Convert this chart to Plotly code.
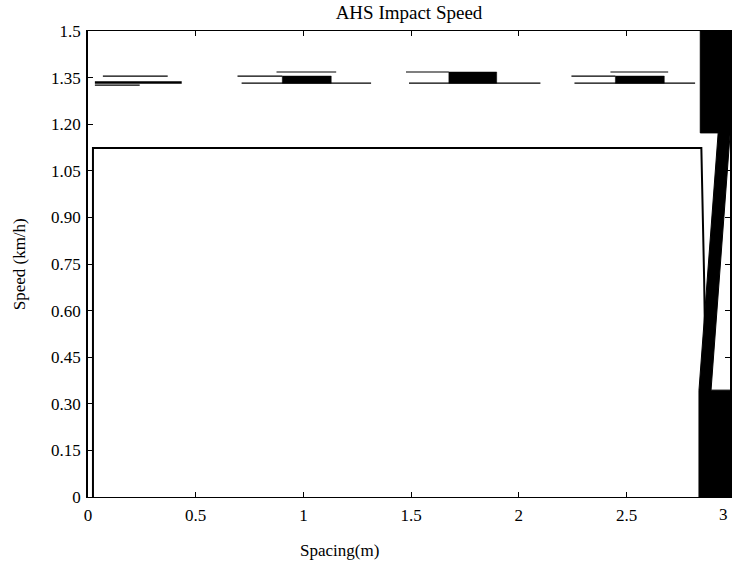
import plotly.graph_objects as go

# ---- data ----
main_x = [0.023, 0.023, 2.847, 2.86, 2.875]
main_y = [0.0, 1.123, 1.123, 0.70, 0.0]

# horizontal streak segments near 1.35
thick_x0 = [0.032]
thick_x1 = [0.435]
thick_y = [1.334]

thin_x0 = [0.069, 0.032, 0.875, 0.694, 0.713, 1.476, 1.490, 2.425, 2.244, 2.258]
thin_x1 = [0.370, 0.240, 1.152, 0.902, 1.314, 1.675, 2.100, 2.693, 2.448, 2.818]
thin_y = [1.355, 1.326, 1.368, 1.355, 1.332, 1.368, 1.332, 1.368, 1.355, 1.332]

# solid streak blocks
block_x0 = [0.902, 1.675, 2.448]
block_x1 = [1.129, 1.897, 2.675]
block_y0 = [1.332, 1.332, 1.332]
block_y1 = [1.355, 1.368, 1.355]

# large black shape at the right edge
big_x = [2.842, 3.02, 3.02, 2.980, 2.892, 3.02, 3.02, 2.836, 2.836, 2.925, 2.842, 2.842]
big_y = [1.5, 1.5, 1.165, 1.165, 0.344, 0.344, 0.0, 0.0, 0.344, 1.172, 1.172, 1.5]

x_tickvals = [0, 0.5, 1, 1.5, 2, 2.5, 3]
x_ticktext = ["0", "0.5", "1", "1.5", "2", "2.5", "3"]
y_tickvals = [0, 0.15, 0.30, 0.45, 0.60, 0.75, 0.90, 1.05, 1.20, 1.35, 1.5]
y_ticktext = ["0", "0.15", "0.30", "0.45", "0.60", "0.75", "0.90", "1.05", "1.20", "1.35", "1.5"]

X_MAX = 2.98


def segs(x0s, x1s, ys):
    xs, yv = [], []
    for a, b, y in zip(x0s, x1s, ys):
        xs += [a, b, None]
        yv += [y, y, None]
    return xs, yv


def rects(x0s, x1s, y0s, y1s):
    xs, yv = [], []
    for a, b, c, d in zip(x0s, x1s, y0s, y1s):
        xs += [a, b, b, a, a, None]
        yv += [c, c, d, d, c, None]
    return xs, yv


FONT = "Liberation Serif, Times New Roman, serif"

fig = go.Figure()

tx, ty = segs(thick_x0, thick_x1, thick_y)
fig.add_trace(go.Scatter(x=tx, y=ty, mode="lines", line=dict(color="black", width=2.5),
                         hoverinfo="skip", showlegend=False))
sx, sy = segs(thin_x0, thin_x1, thin_y)
fig.add_trace(go.Scatter(x=sx, y=sy, mode="lines", line=dict(color="black", width=1.2),
                         hoverinfo="skip", showlegend=False))
bx, by = rects(block_x0, block_x1, block_y0, block_y1)
fig.add_trace(go.Scatter(x=bx, y=by, mode="lines", fill="toself", fillcolor="black",
                         line=dict(color="black", width=0.5), hoverinfo="skip", showlegend=False))

fig.add_trace(go.Scatter(x=main_x, y=main_y, mode="lines", line=dict(color="black", width=2),
                         showlegend=False))

fig.add_trace(go.Scatter(x=big_x, y=big_y, mode="lines", fill="toself", fillcolor="black",
                         line=dict(color="black", width=1), hoverinfo="skip", showlegend=False))

fig.update_layout(
    width=732, height=570,
    margin=dict(l=88, r=0, t=31, b=73),
    paper_bgcolor="white", plot_bgcolor="white",
    font=dict(family=FONT, size=17, color="black"),
    title=dict(text="AHS Impact Speed", font=dict(family=FONT, size=19, color="black"),
               x=0.5, xref="paper", xanchor="center", y=1 - 12 / 570, yref="container",
               yanchor="middle"),
    showlegend=False,
    annotations=[
        dict(text="Spacing(m)", xref="paper", yref="paper", x=0.391, y=-0.115,
             xanchor="center", yanchor="middle", showarrow=False,
             font=dict(family=FONT, size=17, color="black")),
        dict(text="Speed (km/h)", xref="paper", yref="paper", x=-0.107, y=0.5,
             xanchor="center", yanchor="middle", showarrow=False, textangle=-90,
             font=dict(family=FONT, size=17, color="black")),
        # last x tick label sits at the right edge of the picture
        dict(text=x_ticktext[-1], xref="paper", yref="paper", x=1.0, y=-0.038,
             xanchor="right", yanchor="middle", showarrow=False,
             font=dict(family=FONT, size=17, color="black")),
    ],
)

fig.update_xaxes(range=[0, X_MAX], tickvals=x_tickvals, ticktext=x_ticktext,
                 showgrid=False, zeroline=False, showline=True, linecolor="black",
                 linewidth=1, mirror="ticks", ticks="inside", ticklen=5,
                 tickcolor="black", ticklabelstandoff=3)
fig.update_yaxes(range=[0, 1.5], tickvals=y_tickvals, ticktext=y_ticktext,
                 showgrid=False, zeroline=False, showline=True, linecolor="black",
                 linewidth=1.5, mirror="ticks", ticks="inside", ticklen=5,
                 tickcolor="black", ticklabelstandoff=2)

fig.write_html("out.html")
